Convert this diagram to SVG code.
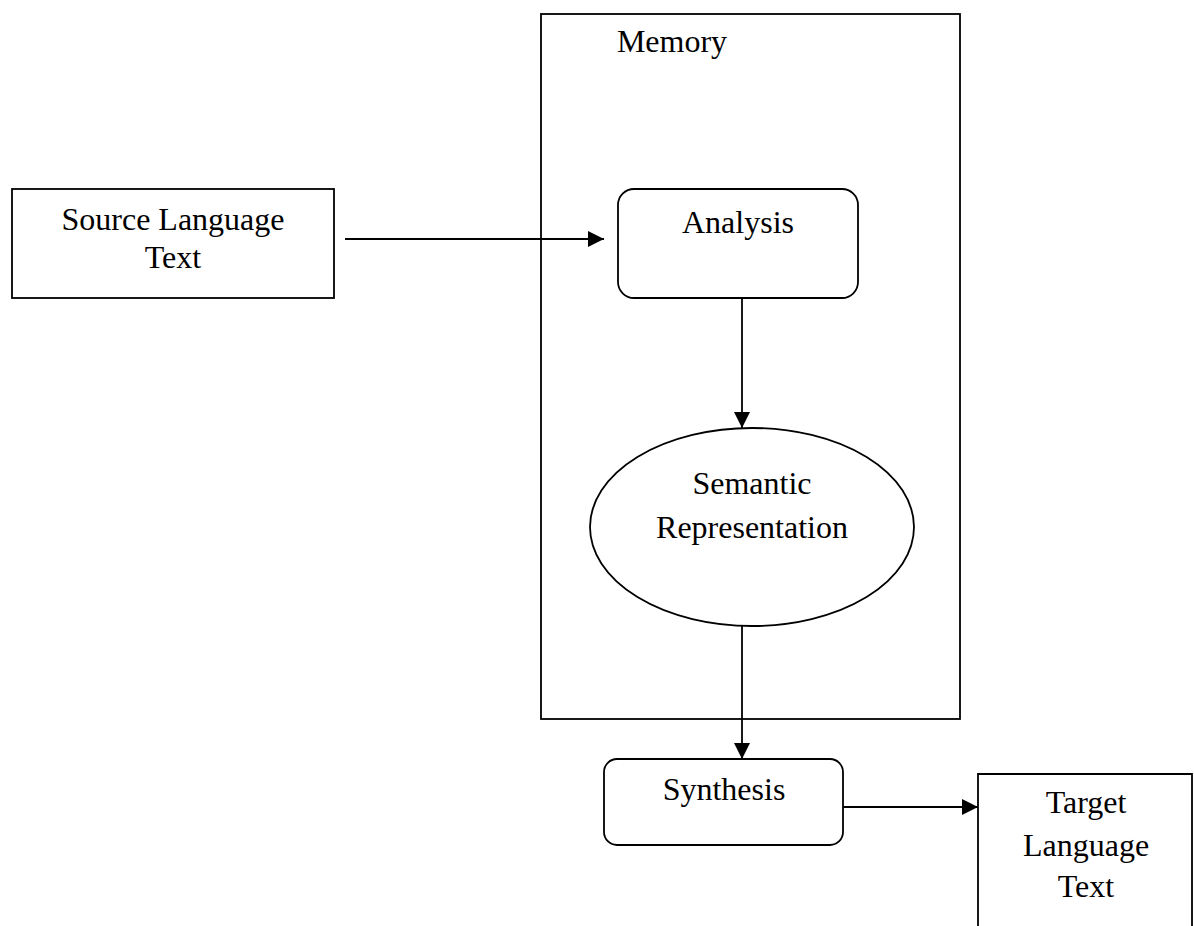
<svg xmlns="http://www.w3.org/2000/svg" width="1194" height="926" viewBox="0 0 1194 926">
<style>
.box{fill:#fff;stroke:#000;stroke-width:1.8}
.lbl{font-family:"Liberation Serif","Times New Roman",serif;font-size:32px;fill:#000;text-anchor:middle}
.con{fill:none;stroke:#000;stroke-width:1.8}
</style>
<defs>
<marker id="arr" viewBox="0 0 16 16" refX="16" refY="8" markerWidth="16" markerHeight="16" markerUnits="userSpaceOnUse" orient="auto">
<path d="M0,0 L16,8 L0,16 Z" fill="#000"/>
</marker>
</defs>
<rect width="1194" height="926" fill="#fff"/>
<g id="memory">
<rect class="box" x="541" y="14" width="419" height="705"/>
<text class="lbl" x="672" y="52">Memory</text>
</g>
<g id="source">
<rect class="box" x="12" y="189" width="322" height="109"/>
<text class="lbl" x="173" y="230">Source Language</text>
<text class="lbl" x="173" y="268">Text</text>
</g>
<g id="analysis">
<rect class="box" x="618" y="189" width="240" height="109" rx="16" ry="16"/>
<text class="lbl" x="738" y="233">Analysis</text>
</g>
<g id="semantic">
<ellipse class="box" cx="752" cy="527" rx="162" ry="99"/>
<text class="lbl" x="752" y="494">Semantic</text>
<text class="lbl" x="752" y="538">Representation</text>
</g>
<g id="synthesis">
<rect class="box" x="604" y="759" width="239" height="86" rx="13" ry="13"/>
<text class="lbl" x="724" y="800">Synthesis</text>
</g>
<g id="target">
<path class="box" d="M978,930 L978,774 L1192,774 L1192,930"/>
<text class="lbl" x="1086" y="813">Target</text>
<text class="lbl" x="1086" y="856">Language</text>
<text class="lbl" x="1086" y="897">Text</text>
</g>
<g id="connectors">
<line class="con" x1="345" y1="239" x2="604" y2="239" marker-end="url(#arr)"/>
<line class="con" x1="742" y1="298" x2="742" y2="428" marker-end="url(#arr)"/>
<line class="con" x1="742" y1="626" x2="742" y2="759" marker-end="url(#arr)"/>
<line class="con" x1="843" y1="807" x2="978" y2="807" marker-end="url(#arr)"/>
</g>
</svg>
